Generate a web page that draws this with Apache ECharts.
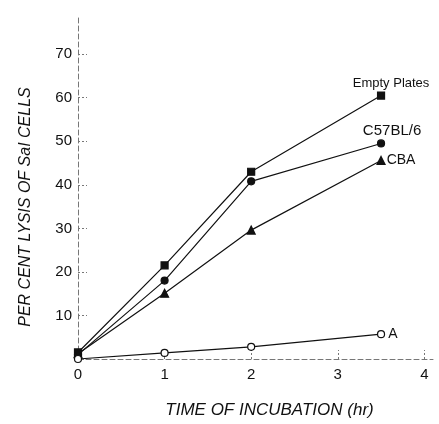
<!DOCTYPE html>
<html><head><meta charset="utf-8">
<script src="https://cdn.jsdelivr.net/npm/echarts@6/dist/echarts.min.js"></script>
<style>html,body{margin:0;padding:0;background:#fff}#c{width:439px;height:424px}</style>
</head><body><div id="c"></div>
<script>
const times = [0, 1, 2, 3.5];
const emptyPlates = [1.5, 21.5, 43, 60.5];
const c57bl6 = [1, 18, 40.8, 49.5];
const cba = [1.2, 15.1, 29.6, 45.6];
const strainA = [0, 1.4, 2.8, 5.7];
const yTicks = [10, 20, 30, 40, 50, 60, 70];
const xTicks = [0, 1, 2, 3, 4];

const chart = echarts.init(document.getElementById('c'), null, {renderer: 'canvas'});
const font = 'Liberation Sans, Arial, sans-serif';
function mk(name, vals, symbol, filled, labelCfg, shift) {
  return {
    name: name, type: 'line',
    data: times.map((t, i) => [t, vals[i]]),
    symbol: symbol, symbolSize: symbol === 'triangle' ? 8 : 7,
    showAllSymbol: true,
    lineStyle: {color: '#111', width: 1.2},
    itemStyle: {color: filled ? '#111' : '#fff', borderColor: '#111', borderWidth: 1.2},
    label: Object.assign({
      show: true, color: '#111', fontFamily: font, fontSize: 13,
      formatter: p => p.dataIndex === times.length - 1 ? name : ''
    }, labelCfg),
    labelLayout: {hideOverlap: false, moveOverlap: false, dx: shift[0], dy: shift[1]},
    z: 3
  };
}
chart.setOption({
  animation: false,
  backgroundColor: '#fff',
  grid: {left: 78, right: 6, top: 15, bottom: 65, outerBoundsMode: 'none', containLabel: false},
  xAxis: {
    type: 'value', min: 0, max: 4.1, interval: 1,
    axisLine: {show: true, onZero: false, lineStyle: {color: '#777', type: [5, 3], width: 1}},
    axisTick: {show: true, inside: true, length: 9, lineStyle: {color: '#777', type: [2, 2]}},
    axisLabel: {
      color: '#111', fontSize: 15, fontFamily: font, margin: 8,
      showMaxLabel: false,
      formatter: v => xTicks.indexOf(v) >= 0 ? String(v) : ''
    },
    splitLine: {show: false},
    name: 'TIME OF INCUBATION (hr)', nameLocation: 'middle', nameGap: 43,
    nameTextStyle: {color: '#111', fontSize: 17, fontStyle: 'italic', fontFamily: font, padding: [0, 0, 0, 28]}
  },
  yAxis: {
    type: 'value', min: 0, max: 79, interval: 10,
    axisLine: {show: true, lineStyle: {color: '#777', type: [5, 3], width: 1}},
    axisTick: {show: true, inside: true, length: 9, lineStyle: {color: '#777', type: [2, 2]}},
    axisLabel: {
      color: '#111', fontSize: 15, fontFamily: font, margin: 6,
      showMaxLabel: false,
      formatter: v => yTicks.indexOf(v) >= 0 ? String(v) : ''
    },
    splitLine: {show: false},
    name: 'PER CENT LYSIS OF SaI CELLS', nameLocation: 'middle', nameGap: 44,
    nameTextStyle: {color: '#111', fontSize: 16, fontStyle: 'italic', fontFamily: font, padding: [0, 40, 0, 0]}
  },
  series: [
    mk('Empty Plates', emptyPlates, 'rect', true, {position: 'top', fontSize: 13}, [10, 3]),
    mk('C57BL/6', c57bl6, 'circle', true, {position: 'top', fontSize: 15}, [11, 4]),
    mk('CBA', cba, 'triangle', true, {position: 'right', distance: 1, fontSize: 14}, [0, 0]),
    mk('A', strainA, 'circle', false, {position: 'right', distance: 3, fontSize: 14}, [0, 0])
  ]
});
</script></body></html>
